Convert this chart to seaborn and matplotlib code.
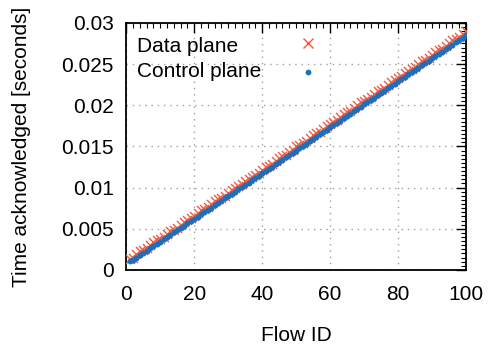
import matplotlib
matplotlib.use("Agg")
import matplotlib.pyplot as plt
import seaborn as sns
import pandas as pd
from matplotlib.ticker import MultipleLocator
from matplotlib.lines import Line2D

flow_ids = list(range(1, 101))

control_plane = [
    0.00105, 0.00118, 0.00150, 0.00178, 0.00210, 0.00236, 0.00262, 0.00290, 0.00318, 0.00345,
    0.00372, 0.00400, 0.00428, 0.00455, 0.00482, 0.00510, 0.00538, 0.00566, 0.00592, 0.00620,
    0.00648, 0.00676, 0.00703, 0.00730, 0.00758, 0.00786, 0.00814, 0.00842, 0.00869, 0.00896,
    0.00924, 0.00952, 0.00980, 0.01008, 0.01035, 0.01062, 0.01090, 0.01118, 0.01146, 0.01173,
    0.01200, 0.01228, 0.01256, 0.01284, 0.01311, 0.01338, 0.01366, 0.01394, 0.01422, 0.01450,
    0.01478, 0.01506, 0.01534, 0.01562, 0.01590, 0.01618, 0.01646, 0.01674, 0.01702, 0.01730,
    0.01758, 0.01786, 0.01814, 0.01842, 0.01870, 0.01898, 0.01926, 0.01954, 0.01982, 0.02010,
    0.02038, 0.02066, 0.02094, 0.02122, 0.02150, 0.02178, 0.02206, 0.02234, 0.02262, 0.02290,
    0.02318, 0.02346, 0.02374, 0.02402, 0.02430, 0.02457, 0.02484, 0.02512, 0.02540, 0.02568,
    0.02596, 0.02624, 0.02652, 0.02680, 0.02708, 0.02736, 0.02764, 0.02792, 0.02820, 0.02848,
]

data_plane = [
    0.00130, 0.00148, 0.00195, 0.00225, 0.00245, 0.00268, 0.00300, 0.00338, 0.00360, 0.00380,
    0.00405, 0.00440, 0.00475, 0.00490, 0.00512, 0.00545, 0.00585, 0.00605, 0.00625, 0.00655,
    0.00690, 0.00725, 0.00740, 0.00762, 0.00795, 0.00835, 0.00858, 0.00875, 0.00902, 0.00935,
    0.00970, 0.00995, 0.01015, 0.01040, 0.01075, 0.01110, 0.01130, 0.01150, 0.01180, 0.01215,
    0.01245, 0.01265, 0.01288, 0.01320, 0.01358, 0.01385, 0.01402, 0.01428, 0.01462, 0.01500,
    0.01520, 0.01540, 0.01570, 0.01608, 0.01640, 0.01658, 0.01680, 0.01712, 0.01750, 0.01778,
    0.01795, 0.01820, 0.01855, 0.01892, 0.01915, 0.01935, 0.01962, 0.02000, 0.02035, 0.02052,
    0.02075, 0.02105, 0.02142, 0.02168, 0.02188, 0.02215, 0.02250, 0.02285, 0.02302, 0.02325,
    0.02355, 0.02392, 0.02420, 0.02438, 0.02465, 0.02500, 0.02535, 0.02552, 0.02575, 0.02605,
    0.02642, 0.02670, 0.02688, 0.02715, 0.02750, 0.02788, 0.02805, 0.02828, 0.02862, 0.02900,
]

series_names = ["Data plane", "Control plane"]
x_ticks = [0, 20, 40, 60, 80, 100]
y_ticks = [0, 0.005, 0.01, 0.015, 0.02, 0.025, 0.03]
y_tick_labels = ["0", "0.005", "0.01", "0.015", "0.02", "0.025", "0.03"]

df = pd.DataFrame({
    "flow": flow_ids * 2,
    "time": data_plane + control_plane,
    "series": [series_names[0]] * len(flow_ids) + [series_names[1]] * len(flow_ids),
})

sns.set_style("white")
plt.rcParams["font.family"] = ["Liberation Sans", "DejaVu Sans"]
plt.rcParams["text.color"] = "black"
plt.rcParams["axes.labelcolor"] = "black"
plt.rcParams["xtick.color"] = "black"
plt.rcParams["ytick.color"] = "black"
FS = 15

fig = plt.figure(figsize=(4.89, 3.47), dpi=100)
ax = fig.add_axes([0.258, 0.222, 0.695, 0.712])

red = "#f05a40"
blue = "#1f6fb8"

d1 = df[df.series == series_names[0]]
d2 = df[df.series == series_names[1]]
sns.scatterplot(data=d1, x="flow", y="time", marker="x", color=red, s=42,
                linewidth=1.0, ax=ax, zorder=3, legend=False)
sns.scatterplot(data=d2, x="flow", y="time", marker="o", color=blue, s=18,
                linewidth=0, ax=ax, zorder=4, legend=False)

ax.set_xlim(0, 100)
ax.set_ylim(0, 0.03)
ax.set_xticks(x_ticks)
ax.set_xticklabels([str(v) for v in x_ticks])
ax.set_yticks(y_ticks)
ax.set_yticklabels(y_tick_labels)
ax.xaxis.set_minor_locator(MultipleLocator(2))
ax.yaxis.set_minor_locator(MultipleLocator(0.0005))

ax.grid(True, which="major", color="#a0a0a0", linestyle=(0, (1, 3.5)), linewidth=1.0)
ax.tick_params(which="major", direction="in", length=7, width=1.0, top=True, right=True,
               labelsize=FS, color="black", labelcolor="black")
ax.tick_params(axis="y", which="major", pad=9)
ax.tick_params(axis="x", which="major", pad=11)
ax.tick_params(which="minor", direction="in", length=3.5, width=0.8, top=True, right=True,
               color="black")
for sp in ax.spines.values():
    sp.set_color("black")
    sp.set_linewidth(1.3)

ax.set_xlabel("Flow ID", fontsize=FS, color="black")
ax.set_ylabel("Time acknowledged [seconds]", fontsize=FS, color="black")
ax.xaxis.set_label_coords(0.5, -0.225)
ax.yaxis.set_label_coords(-0.28, 0.5)

# legend: text on the left, sample markers on the right (gnuplot style)
handles = [
    Line2D([], [], linestyle="none", marker="x", color=red, markersize=6.5, markeredgewidth=1.0),
    Line2D([], [], linestyle="none", marker="o", color=blue, markersize=4.2, markeredgewidth=0),
]
leg = ax.legend(handles, ["", ""], loc="center", bbox_to_anchor=(0.535, 0.853),
                frameon=False, fontsize=FS, handletextpad=0, borderpad=0,
                labelspacing=0.5, handlelength=1.0)
for lbl, yf in zip(series_names, [0.903, 0.802]):
    ax.text(0.032, yf, lbl, transform=ax.transAxes, fontsize=FS, ha="left", va="center",
            color="black")

fig.savefig("out.png", dpi=100)
